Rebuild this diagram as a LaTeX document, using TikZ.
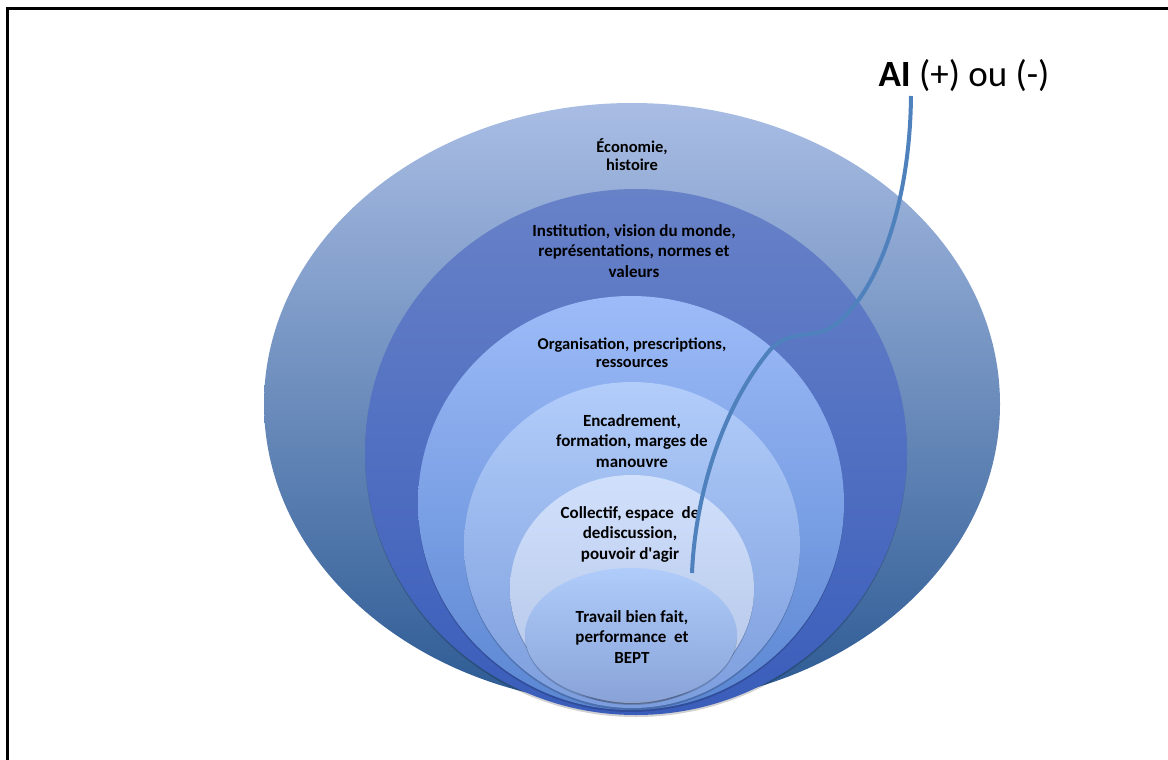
\documentclass[tikz,border=0pt]{standalone}
\usepackage{fontspec}
\setmainfont{Carlito}
\usepackage{tikz}
\usetikzlibrary{positioning,calc}

\definecolor{ecoTop}{HTML}{A9BDE4}
\definecolor{ecoMid}{HTML}{93A8D2}
\definecolor{ecoBot}{HTML}{2C5A93}
\definecolor{instTop}{HTML}{6882C8}
\definecolor{instMid}{HTML}{4A70C6}
\definecolor{instBot}{HTML}{3A5DBB}
\definecolor{orgTop}{HTML}{9DBBF8}
\definecolor{orgBot}{HTML}{5A86D2}
\definecolor{encTop}{HTML}{B2CDFA}
\definecolor{encBot}{HTML}{7C9DDD}
\definecolor{colTop}{HTML}{D0E0FC}
\definecolor{colBot}{HTML}{B3C4E6}
\definecolor{travTop}{HTML}{AFCCFA}
\definecolor{travBot}{HTML}{89A3D8}
\definecolor{curveBlue}{HTML}{4F81BD}

\begin{document}
\begin{tikzpicture}[x=1pt, y=-1pt]
\tikzstyle{layer}=[font=\fontsize{17}{20.5}\selectfont\bfseries, align=center, text=black]
\tikzstyle{small layer}=[font=\fontsize{16.5}{18}\selectfont\bfseries, align=center, text=black]
\tikzstyle{shadow}=[fill=black, opacity=0.18]
\useasboundingbox (0,0) rectangle (1168,760);

% frame
\draw[line width=3pt] (7,760) -- (7,9) -- (1168,9);

% nested ellipses
\shade[top color=ecoTop, middle color=ecoMid, bottom color=ecoBot] (632,404) ellipse [x radius=368, y radius=301];
\fill[shadow] (636,454) ellipse [x radius=271, y radius=263];
\shade[top color=instTop, middle color=instMid, bottom color=instBot] (636,452) ellipse [x radius=271, y radius=263];
\fill[shadow] (631,505) ellipse [x radius=213, y radius=207];
\shade[top color=orgTop, bottom color=orgBot] (631,503) ellipse [x radius=213, y radius=207];
\fill[shadow] (632,547) ellipse [x radius=168, y radius=163];
\shade[top color=encTop, bottom color=encBot] (632,545) ellipse [x radius=168, y radius=163];
\fill[shadow] (632,591) ellipse [x radius=122, y radius=114];
\shade[top color=colTop, bottom color=colBot] (632,589) ellipse [x radius=122, y radius=114];
\fill[shadow] (631,637) ellipse [x radius=106, y radius=67];
\shade[top color=travTop, bottom color=travBot] (631,635) ellipse [x radius=106, y radius=67];

% labels
\node[small layer] (eco)  at (632,155) {Économie,\\histoire};
\node[layer]       (inst) at (634,251) {Institution, vision du monde,\\représentations, normes et\\valeurs};
\node[small layer] (org)  at (632,353) {Organisation, prescriptions,\\ressources};
\node[layer]       (enc)  at (632,441) {Encadrement,\\formation, marges de\\manouvre};
\node[layer]       (coll) at (630,534) {Collectif, espace\ \ de\\dediscussion,\\pouvoir d\textquotesingle agir};
\node[layer]       (trav) at (632,637) {Travail bien fait,\\performance\ \ et\\BEPT};

% AI label and its curve
\node[font=\fontsize{37}{40}\selectfont] (ai) at (964,76) {\textbf{AI} (+) ou (-)};
\coordinate (aiEnd) at (692,573);
\draw[curveBlue, line width=4pt]
  (911,96) .. controls (910,200) and (880,290) .. (835,325)
  .. controls (815,340) and (790,328) .. (770,350)
  .. controls (720,410) and (695,500) .. (aiEnd);
\end{tikzpicture}
\end{document}
